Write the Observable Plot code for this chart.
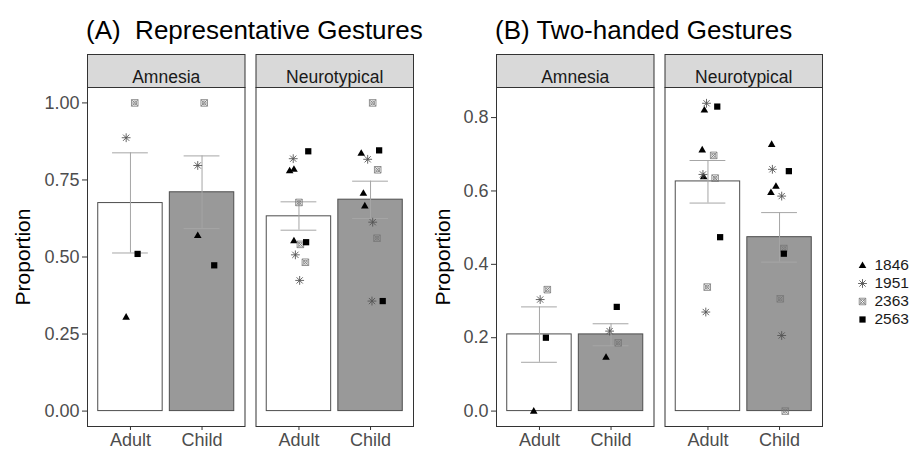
<!DOCTYPE html>
<html><head><meta charset="utf-8">
<script src="https://cdn.jsdelivr.net/npm/d3@7"></script>
<script src="https://cdn.jsdelivr.net/npm/@observablehq/plot@0.6"></script>
<style>
body{margin:0;background:#fff;font-family:"Liberation Sans",Arial,sans-serif;}
#wrap{position:relative;width:922px;height:450px;overflow:hidden;background:#fff;}
.title{position:absolute;font-size:26px;line-height:26px;color:#000;white-space:pre;z-index:2;}
.panel{position:absolute;top:0;}
</style></head><body>
<div id="wrap">
<div id="pa" class="panel" style="left:0px"></div>
<div id="pb" class="panel" style="left:430px"></div>
<div id="lg" class="panel" style="left:845px;top:257px"></div>
<div class="title" style="left:86px;top:17px">(A)  Representative Gestures</div>
<div class="title" style="left:495px;top:17px">(B) Two-handed Gestures</div>
</div>
<script>
// ---------- data ----------
const subjects = ["1846", "1951", "2363", "2563"];
const groups = ["Amnesia", "Neurotypical"];
const ages = ["Adult", "Child"];

// [group, age, mean, mean - SE, mean + SE]
const repBars = [
  ["Amnesia", "Adult", 0.675, 0.513, 0.838],
  ["Amnesia", "Child", 0.710, 0.592, 0.828],
  ["Neurotypical", "Adult", 0.632, 0.587, 0.679],
  ["Neurotypical", "Child", 0.686, 0.625, 0.746]
];
const twoBars = [
  ["Amnesia", "Adult", 0.209, 0.133, 0.284],
  ["Amnesia", "Child", 0.209, 0.178, 0.238],
  ["Neurotypical", "Adult", 0.626, 0.567, 0.683],
  ["Neurotypical", "Child", 0.474, 0.406, 0.541]
];

// [group, age, subject, proportion, horizontal jitter]
const repPoints = [
  ["Amnesia", "Adult", "2363", 1.000, 0.06],
  ["Amnesia", "Adult", "1951", 0.887, -0.06],
  ["Amnesia", "Adult", "2563", 0.510, 0.10],
  ["Amnesia", "Adult", "1846", 0.305, -0.06],
  ["Amnesia", "Child", "2363", 1.000, 0.03],
  ["Amnesia", "Child", "1951", 0.797, -0.06],
  ["Amnesia", "Child", "1846", 0.570, -0.06],
  ["Amnesia", "Child", "2563", 0.473, 0.17],
  ["Neurotypical", "Adult", "1951", 0.819, -0.08],
  ["Neurotypical", "Adult", "2563", 0.843, 0.13],
  ["Neurotypical", "Adult", "1846", 0.780, -0.13],
  ["Neurotypical", "Adult", "1846", 0.785, -0.07],
  ["Neurotypical", "Adult", "2363", 0.677, 0.00],
  ["Neurotypical", "Adult", "1846", 0.553, -0.07],
  ["Neurotypical", "Adult", "2363", 0.541, 0.02],
  ["Neurotypical", "Adult", "2563", 0.548, 0.10],
  ["Neurotypical", "Adult", "1951", 0.507, -0.05],
  ["Neurotypical", "Adult", "2363", 0.483, 0.09],
  ["Neurotypical", "Adult", "1951", 0.424, 0.01],
  ["Neurotypical", "Child", "2363", 1.000, 0.03],
  ["Neurotypical", "Child", "1846", 0.837, -0.13],
  ["Neurotypical", "Child", "2563", 0.846, 0.12],
  ["Neurotypical", "Child", "1951", 0.817, -0.04],
  ["Neurotypical", "Child", "2363", 0.783, 0.10],
  ["Neurotypical", "Child", "1846", 0.707, -0.10],
  ["Neurotypical", "Child", "1846", 0.666, -0.08],
  ["Neurotypical", "Child", "1951", 0.613, 0.03],
  ["Neurotypical", "Child", "2363", 0.561, 0.09],
  ["Neurotypical", "Child", "1951", 0.357, 0.02],
  ["Neurotypical", "Child", "2563", 0.357, 0.17]
];
const twoPoints = [
  ["Amnesia", "Adult", "2363", 0.331, 0.11],
  ["Amnesia", "Adult", "1951", 0.304, 0.01],
  ["Amnesia", "Adult", "2563", 0.200, 0.09],
  ["Amnesia", "Adult", "1846", 0.000, -0.08],
  ["Amnesia", "Child", "2563", 0.284, 0.08],
  ["Amnesia", "Child", "1951", 0.218, -0.02],
  ["Amnesia", "Child", "2363", 0.186, 0.10],
  ["Amnesia", "Child", "1846", 0.147, -0.07],
  ["Neurotypical", "Adult", "1951", 0.839, -0.02],
  ["Neurotypical", "Adult", "1846", 0.821, -0.05],
  ["Neurotypical", "Adult", "2563", 0.830, 0.13],
  ["Neurotypical", "Adult", "1846", 0.712, -0.08],
  ["Neurotypical", "Adult", "2363", 0.697, 0.08],
  ["Neurotypical", "Adult", "1951", 0.645, -0.07],
  ["Neurotypical", "Adult", "1846", 0.639, -0.06],
  ["Neurotypical", "Adult", "2363", 0.635, 0.10],
  ["Neurotypical", "Adult", "2563", 0.474, 0.17],
  ["Neurotypical", "Adult", "2363", 0.338, -0.01],
  ["Neurotypical", "Adult", "1951", 0.270, -0.03],
  ["Neurotypical", "Child", "1846", 0.727, -0.11],
  ["Neurotypical", "Child", "1951", 0.659, -0.10],
  ["Neurotypical", "Child", "2563", 0.654, 0.13],
  ["Neurotypical", "Child", "1846", 0.613, -0.05],
  ["Neurotypical", "Child", "1846", 0.596, -0.12],
  ["Neurotypical", "Child", "1951", 0.586, 0.03],
  ["Neurotypical", "Child", "2363", 0.443, 0.06],
  ["Neurotypical", "Child", "2563", 0.429, 0.06],
  ["Neurotypical", "Child", "2363", 0.306, 0.01],
  ["Neurotypical", "Child", "1951", 0.206, 0.03],
  ["Neurotypical", "Child", "2363", 0.000, 0.08]
];

const repTicks = [0, 0.25, 0.5, 0.75, 1];
const twoTicks = [0, 0.2, 0.4, 0.6, 0.8];

// ---------- symbols ----------
const symbolShapes = {
  "1846": {draw(c, size) { const r = Math.sqrt(size / Math.PI); c.moveTo(0, -r); c.lineTo(r * 0.95, r * 0.65); c.lineTo(-r * 0.95, r * 0.65); c.closePath(); }},
  "1951": {draw(c, size) { const r = Math.sqrt(size / Math.PI) * 1.1, d = r * 0.7071;
    c.moveTo(-r, 0); c.lineTo(r, 0); c.moveTo(0, -r); c.lineTo(0, r);
    c.moveTo(-d, -d); c.lineTo(d, d); c.moveTo(-d, d); c.lineTo(d, -d); }},
  "2363": {draw(c, size) { const r = Math.sqrt(size / Math.PI) * 0.82;
    c.rect(-r, -r, 2 * r, 2 * r); c.moveTo(-r, -r); c.lineTo(r, r); c.moveTo(-r, r); c.lineTo(r, -r);
    c.moveTo(r * 0.6, 0); c.arc(0, 0, r * 0.6, 0, 2 * Math.PI); }},
  "2563": {draw(c, size) { const r = Math.sqrt(size / Math.PI) * 0.78; c.rect(-r, -r, 2 * r, 2 * r); }}
};
const symbolStyle = {
  "1846": {fill: "black", stroke: "none"},
  "1951": {fill: "none", stroke: "#555", strokeWidth: 0.9},
  "2363": {fill: "none", stroke: "#777", strokeWidth: 0.8},
  "2563": {fill: "black", stroke: "none"}
};

const FONT = "'Liberation Sans', Arial, Helvetica, sans-serif";
const pos = a => ages.indexOf(a) + 1;
const fxOf = d => d[0];

function panel(bars, points, yDomain, ticks, fmt, o) {
  return Plot.plot({
    width: o.width, height: 450,
    marginLeft: o.ml, marginRight: o.mr, marginTop: 87, marginBottom: 24,
    style: {fontFamily: FONT, fontSize: "16px", background: "transparent", overflow: "visible"},
    fx: {domain: groups, paddingInner: 0.0653, paddingOuter: 0, round: false, axis: null, label: null},
    x: {domain: [0.4, 2.6]},
    y: {domain: yDomain},
    marks: [
      Plot.frame({fill: "#d9d9d9", stroke: "#333", insetTop: -33, insetBottom: 339}),
      Plot.text(groups, {fx: d => d, text: d => d, frameAnchor: "top", dy: -16.5, fontSize: 17.5, fill: "#1a1a1a"}),
      Plot.rect(bars.filter(b => b[1] === "Adult"), {fx: fxOf, x1: d => pos(d[1]) - 0.45, x2: d => pos(d[1]) + 0.45, y1: 0, y2: d => d[2], fill: "white", stroke: "#4d4d4d"}),
      Plot.rect(bars.filter(b => b[1] === "Child"), {fx: fxOf, x1: d => pos(d[1]) - 0.45, x2: d => pos(d[1]) + 0.45, y1: 0, y2: d => d[2], fill: "#999999", stroke: "#4d4d4d"}),
      Plot.ruleX(bars, {fx: fxOf, x: d => pos(d[1]), y1: d => d[3], y2: d => d[4], stroke: "#a6a6a6"}),
      Plot.ruleY(bars, {fx: fxOf, y: d => d[3], x1: d => pos(d[1]) - 0.25, x2: d => pos(d[1]) + 0.25, stroke: "#a6a6a6"}),
      Plot.ruleY(bars, {fx: fxOf, y: d => d[4], x1: d => pos(d[1]) - 0.25, x2: d => pos(d[1]) + 0.25, stroke: "#a6a6a6"}),
      ...subjects.map(s => Plot.dot(points.filter(p => p[2] === s), {
        fx: fxOf, x: d => pos(d[1]) + d[4], y: d => d[3], r: 4,
        symbol: symbolShapes[s], ...symbolStyle[s]
      })),
      Plot.frame({stroke: "#333"}),
      Plot.axisX({ticks: [1, 2], tickFormat: d => ages[d - 1], tickSize: 4, tickPadding: 3, fontSize: 18, fill: "#4d4d4d", stroke: "#333", label: null}),
      Plot.axisY({ticks, tickFormat: fmt, tickSize: 5, tickPadding: 3, fontSize: 18, fill: "#4d4d4d", stroke: "#333", label: null}),
      Plot.axisY({ticks: [], label: "Proportion", labelAnchor: "center", labelArrow: "none", labelOffset: o.lo, fontSize: 21, fill: "black"})
    ]
  });
}

document.getElementById("pa").append(
  panel(repBars, repPoints, [-0.05, 1.05], repTicks, d3.format(".2f"), {width: 440, ml: 87, mr: 27, lo: 72})
);
document.getElementById("pb").append(
  panel(twoBars, twoPoints, [-0.042, 0.882], twoTicks, d3.format(".1f"), {width: 400, ml: 66, mr: 8, lo: 61})
);

document.getElementById("lg").append(Plot.plot({
  width: 77, height: 72, margin: 0,
  style: {fontFamily: FONT, fontSize: "16px", background: "transparent", overflow: "visible"},
  y: {type: "point", domain: subjects, range: [8, 62], padding: 0, axis: null},
  marks: [
    ...subjects.map(s => Plot.dot([s], {y: d => d, frameAnchor: "left", dx: 17, r: 4, symbol: symbolShapes[s], ...symbolStyle[s]})),
    Plot.text(subjects, {y: d => d, text: d => d, frameAnchor: "left", dx: 29, textAnchor: "start", fontSize: 15.5, fill: "#1a1a1a"})
  ]
}));
</script>
</body></html>
